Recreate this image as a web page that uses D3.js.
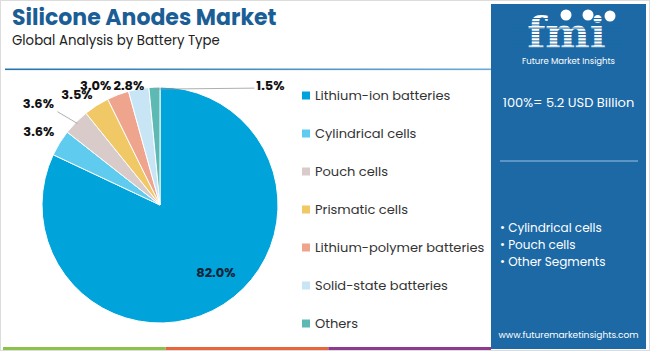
<!DOCTYPE html>
<html>
<head>
<meta charset="utf-8">
<script src="https://cdn.jsdelivr.net/npm/d3@7"></script>
<style>
  body { margin: 0; background: #fff; }
  svg { display: block; font-family: 'Poppins', 'Open Sans', sans-serif; }
</style>
</head>
<body>
<div id="chart"></div>
<script>
// chart data
const categories = ['Lithium-ion batteries', 'Cylindrical cells', 'Pouch cells', 'Prismatic cells',
  'Lithium-polymer batteries', 'Solid-state batteries', 'Others'];
const shares = [82.0, 3.6, 3.6, 3.5, 3.0, 2.8, 1.5];
const colors = ['#00a3da', '#5fcbef', '#d9cbc9', '#f0c866', '#eea48d', '#c8e5f5', '#5db9b3'];
const sideBullets = ['Cylindrical cells', 'Pouch cells', 'Other Segments'];
const totalText = '100%= 5.2 USD Billion';

// label nudges (px) so the small slice labels don't collide
const labelShift = [[13, 0], [-2, 0], [-22, -3], [-13, -1], [-18, 2], [-9, 0], [116, -2]];
const labelRadius = [80, 140, 140, 130, 130, 122, 118];

const W = 650, H = 351;
const svg = d3.select('#chart').append('svg').attr('width', W).attr('height', H);

svg.append('rect').attr('x', 0.5).attr('y', 0.5).attr('width', W - 1).attr('height', H - 1)
  .attr('fill', '#fff').attr('stroke', '#dcdcdc');

// title block
svg.append('text').attr('x', 12).attr('y', 25)
  .attr('font-size', 22).attr('font-weight', 700).attr('fill', '#1b5e96')
  .text('Silicone Anodes Market');
svg.append('text').attr('x', 12).attr('y', 45)
  .attr('font-size', 13.3).attr('fill', '#222')
  .text('Global Analysis by Battery Type');

const grad = svg.append('defs').append('linearGradient').attr('id', 'hl');
grad.append('stop').attr('offset', '0%').attr('stop-color', '#2574ab');
grad.append('stop').attr('offset', '100%').attr('stop-color', '#6aaad6');
svg.append('rect').attr('x', 5).attr('y', 68.5).attr('width', 486).attr('height', 1.6).attr('fill', 'url(#hl)');

// pie
const cx = 160, cy = 205, R = 118;
const pie = d3.pie().sort(null).value(d => d)(shares);
const arc = d3.arc().innerRadius(0).outerRadius(R);
const g = svg.append('g').attr('transform', `translate(${cx},${cy})`);

g.selectAll('path').data(pie).join('path')
  .attr('d', arc)
  .attr('fill', (d, i) => colors[i])
  .attr('stroke', '#fff').attr('stroke-width', 1);

const labelPos = pie.map((d, i) => {
  const c = d3.arc().innerRadius(labelRadius[i]).outerRadius(labelRadius[i]).centroid(d);
  return [c[0] + labelShift[i][0], c[1] + labelShift[i][1]];
});

// leader lines for the pushed-out labels
const leaders = [2, 6];
leaders.forEach(i => {
  const edge = d3.arc().innerRadius(R - 2).outerRadius(R - 2).centroid(pie[i]);
  const p = labelPos[i];
  const end = i === 6 ? [p[0] - 16, p[1] + 3] : [p[0] + 19, p[1] + 8];
  g.append('path')
    .attr('d', d3.line()([edge, end]))
    .attr('fill', 'none').attr('stroke', '#9a9a9a').attr('stroke-width', 0.8);
});

g.selectAll('text.lbl').data(pie).join('text')
  .attr('class', 'lbl')
  .attr('x', (d, i) => labelPos[i][0])
  .attr('y', (d, i) => labelPos[i][1])
  .attr('text-anchor', 'middle').attr('dominant-baseline', 'central')
  .attr('font-size', 13).attr('font-weight', 700)
  .attr('fill', (d, i) => i === 0 ? '#10253a' : '#111')
  .text(d => d.data.toFixed(1) + '%');

// legend
const ly = d3.scalePoint().domain(categories).range([95.5, 323.5]);
const leg = svg.append('g').selectAll('g').data(categories).join('g')
  .attr('transform', d => `translate(302,${ly(d)})`);
leg.append('rect').attr('x', 0).attr('y', -4).attr('width', 8).attr('height', 8)
  .attr('fill', (d, i) => colors[i]);
leg.append('text').attr('x', 13).attr('y', 0).attr('dominant-baseline', 'central')
  .attr('font-size', 13).attr('fill', '#333').text(d => d);

// side panel
const px = 491, pw = 155;
svg.append('rect').attr('x', px).attr('y', 4).attr('width', pw).attr('height', 345).attr('fill', '#1c69a6');

const logo = svg.append('g');
logo.append('text').attr('x', px + pw / 2 - 2).attr('y', 48).attr('text-anchor', 'middle')
  .attr('font-family', 'DejaVu Serif').attr('font-weight', 700).attr('font-size', 42)
  .attr('fill', '#fff').text('fmi');
// horizontal stripes across logo letters
d3.range(18, 50, 3.2).forEach(y => {
  logo.append('rect').attr('x', px + 20).attr('y', y).attr('width', 110).attr('height', 1)
    .attr('fill', '#1c69a6');
});
[[566, 15], [588, 15], [610, 16]].forEach(([x, y]) => {
  logo.append('circle').attr('cx', x).attr('cy', y).attr('r', 5.5).attr('fill', '#fff');
});
logo.append('text').attr('x', px + pw / 2).attr('y', 64).attr('text-anchor', 'middle')
  .attr('font-size', 8.5).attr('fill', '#fff').text('Future Market Insights');

svg.append('text').attr('x', px + pw / 2).attr('y', 107).attr('text-anchor', 'middle')
  .attr('font-size', 13).attr('fill', '#fff').text(totalText);

svg.append('line').attr('x1', 500).attr('x2', 638).attr('y1', 161).attr('y2', 161)
  .attr('stroke', '#9cc3e2').attr('stroke-width', 1);

svg.append('g').selectAll('text').data(sideBullets).join('text')
  .attr('x', 500).attr('y', (d, i) => 232 + i * 17)
  .attr('font-size', 12).attr('fill', '#fff')
  .text(d => '\u2022 ' + d);

svg.append('text').attr('x', px + pw / 2).attr('y', 338).attr('text-anchor', 'middle')
  .attr('font-size', 9).attr('fill', '#fff').text('www.futuremarketinsights.com');

// bottom colour stripes
const stripeColors = ['#8bc34a', '#e8663d', '#8e3a8e'];
const sx = d3.scaleBand().domain(d3.range(3)).range([3, px]);
svg.append('g').selectAll('rect').data(stripeColors).join('rect')
  .attr('x', (d, i) => sx(i)).attr('y', 347).attr('width', sx.bandwidth()).attr('height', 3)
  .attr('fill', d => d);
</script>
</body>
</html>
